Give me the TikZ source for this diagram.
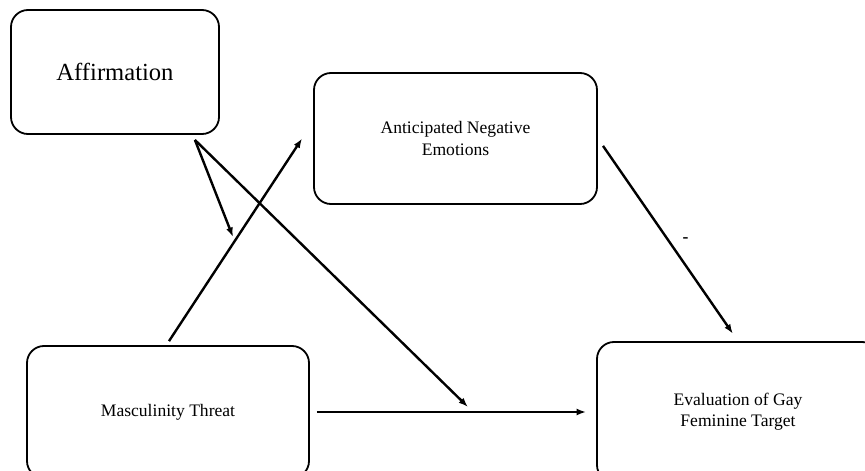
\documentclass[tikz,border=0pt]{standalone}
\usepackage{fontspec}
\setmainfont{Liberation Serif}
\usetikzlibrary{arrows.meta}

\begin{document}
\begin{tikzpicture}[
  x=0.2mm,
  y=-0.2mm,
  line join=round,
  box/.style={draw=black,line width=0.36mm,rounded corners=3.4mm,align=center,inner sep=0pt},
  link/.style={draw=black,line width=0.48mm,-{Latex[length=1.9mm,width=1.4mm]}}
]
  % Page frame: the two lower boxes run off the bottom edge.
  \clip (0,0) rectangle (865,471);

  % Constructs of the model, placed at pixel-like coordinates.
  \node[box,minimum width=41.6mm,minimum height=24.8mm,font=\fontsize{14}{17}\selectfont] (affirm) at (115,72) {Affirmation};
  \node[box,minimum width=56.6mm,minimum height=26.2mm] (antic) at (455.5,138.5) {Anticipated Negative\\Emotions};
  \node[box,minimum width=56.4mm,minimum height=26.4mm] (masc) at (168,412) {Masculinity Threat};
  \node[box,minimum width=56.4mm,minimum height=28mm] (eval) at (738,412) {Evaluation of Gay\\Feminine Target};

  % Moderation arrows leave from just below the affirmation box.
  \coordinate (affout) at ([shift={(-25,5)}]affirm.south east);
  \coordinate (onpath) at (233,237);
  \coordinate (ondirect) at (468,407);

  % Indirect and direct paths.
  \draw[link] ([shift={(1,-4)}]masc.north) -- ([shift={(-11,0)}]antic.west);
  \draw[link,shorten <=1.8mm,shorten >=1.8mm] (antic.east) -- node[right=1.5mm,font=\bfseries] {-} (eval.north);
  \draw[link,shorten <=1.4mm,shorten >=2mm] (masc.east) -- (eval.west);

  % Affirmation moderates both paths.
  \draw[link] (affout) -- (onpath);
  \draw[link] (affout) -- (ondirect);
\end{tikzpicture}
\end{document}
